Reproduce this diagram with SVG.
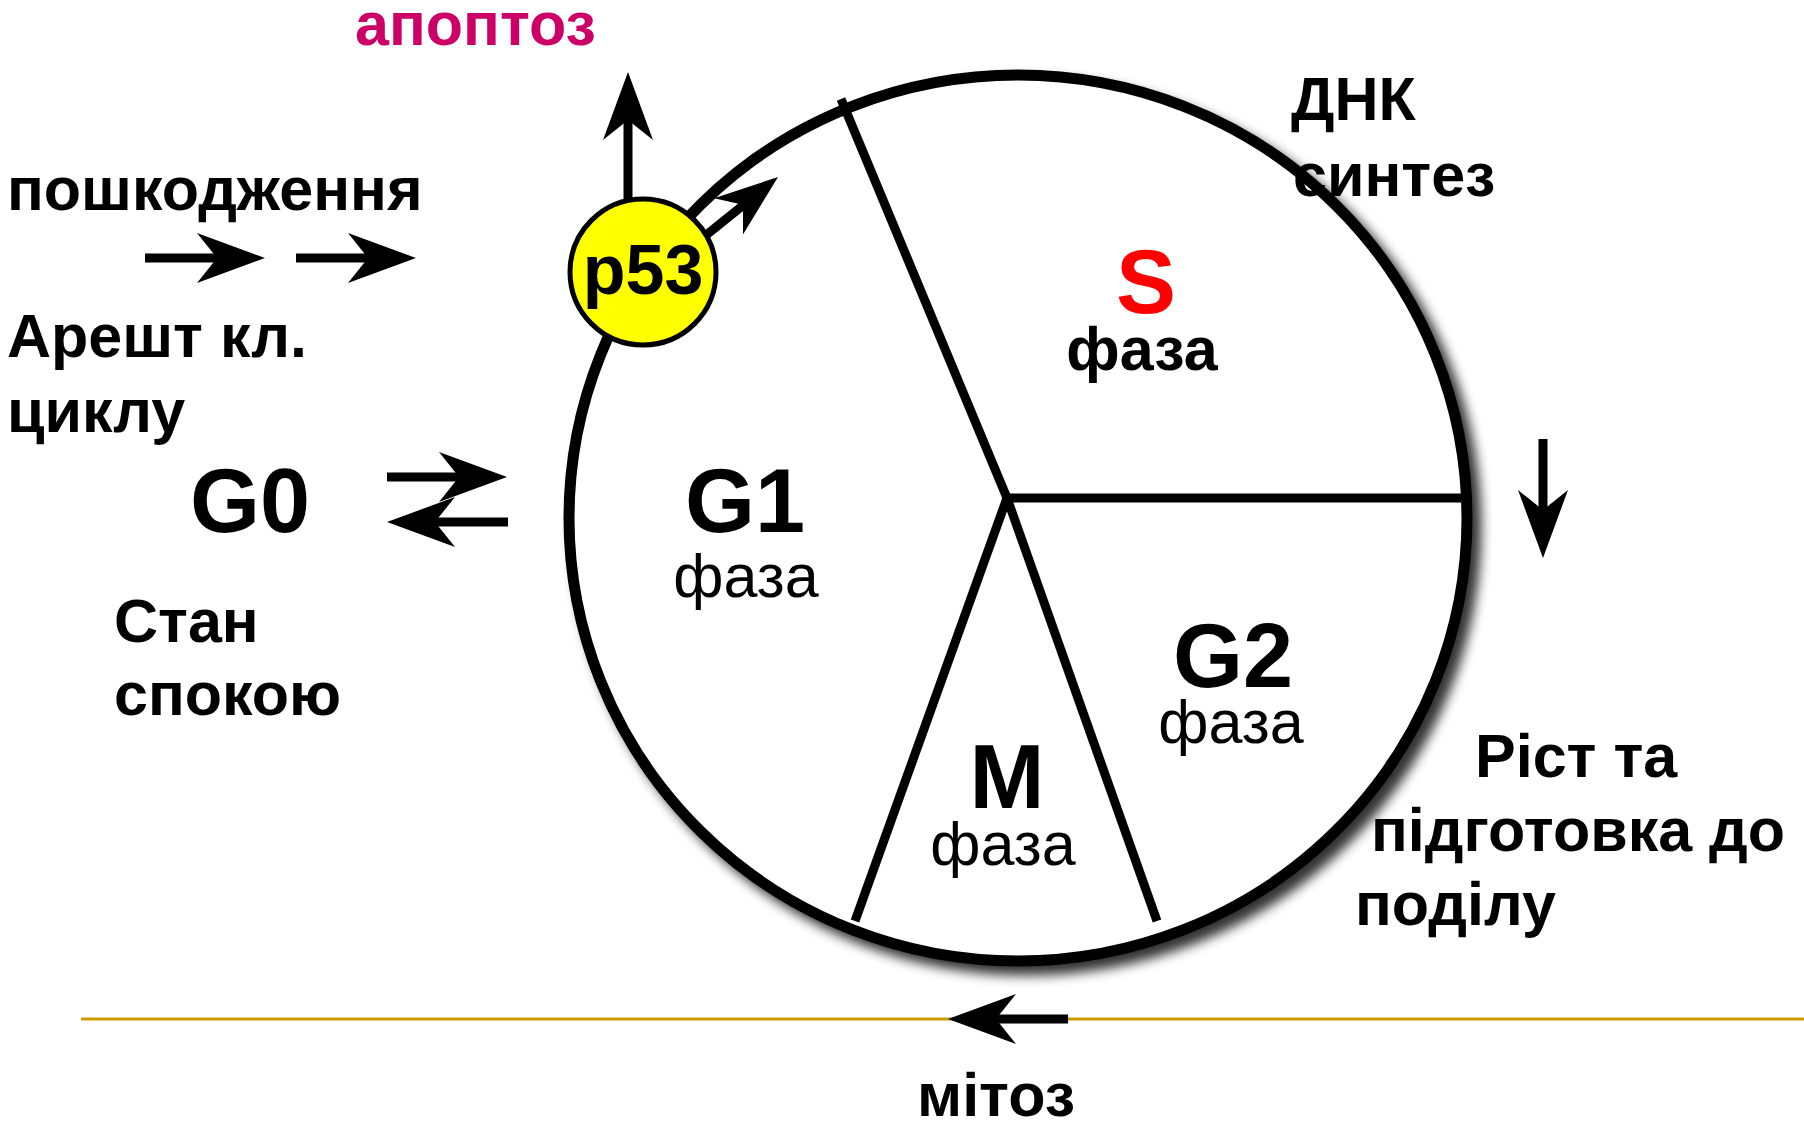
<svg xmlns="http://www.w3.org/2000/svg" xmlns:xlink="http://www.w3.org/1999/xlink" width="1804" height="1121" viewBox="0 0 1804 1121">
<style>
text{font-family:"Liberation Sans",Arial,sans-serif;fill:#000}
.b{font-weight:bold}
.lbl{font-size:61px;font-weight:bold}
.ph{font-size:90px;font-weight:bold;text-anchor:middle}
.fz{font-size:61px;text-anchor:middle}
.shaft{stroke:#000;stroke-width:9;fill:none}
.spoke{stroke:#000;stroke-width:9;fill:none}
</style>
<defs>
<filter id="sh" x="-10%" y="-10%" width="125%" height="125%">
<feGaussianBlur in="SourceAlpha" stdDeviation="6"/>
<feOffset dx="9" dy="9" result="o"/>
<feComponentTransfer><feFuncA type="linear" slope="0.8"/></feComponentTransfer>
<feMerge><feMergeNode/><feMergeNode in="SourceGraphic"/></feMerge>
</filter>
<path id="head" d="M0,0 L-68,-25 L-48,0 L-68,25 Z" fill="#000"/>
</defs>
<rect width="1804" height="1121" fill="#fff"/>

<g id="mitosis-line">
<line x1="81" y1="1019" x2="1804" y2="1019" stroke="#CC9900" stroke-width="3"/>
</g>

<g id="cell-cycle">
<ellipse cx="1018" cy="518" rx="449" ry="443" fill="#fff" stroke="#000" stroke-width="11" filter="url(#sh)"/>
<line class="spoke" x1="1007" y1="498" x2="841" y2="99"/>
<line class="spoke" x1="1007" y1="498" x2="1461" y2="498"/>
<line class="spoke" x1="1007" y1="498" x2="855" y2="921"/>
<line class="spoke" x1="1007" y1="498" x2="1157" y2="921"/>
</g>

<g id="phase-G1"><text class="ph" x="745" y="532">G1</text><text class="fz" x="746" y="597">фаза</text></g>
<g id="phase-S"><text class="ph" x="1146" y="313" font-size="94" style="fill:#FF0000">S</text><text class="fz b" x="1142" y="370">фаза</text></g>
<g id="phase-G2"><text class="ph" x="1233" y="687">G2</text><text class="fz" x="1231" y="743">фаза</text></g>
<g id="phase-M"><text class="ph" x="1007" y="808">M</text><text class="fz" x="1003" y="865">фаза</text></g>

<g id="connectors">
<line class="shaft" x1="145" y1="258" x2="222" y2="258"/>
<use xlink:href="#head" href="#head" transform="translate(265,258)"/>
<line class="shaft" x1="296" y1="258" x2="373" y2="258"/>
<use xlink:href="#head" href="#head" transform="translate(416,258)"/>
<line class="shaft" x1="387" y1="477" x2="462" y2="477"/>
<use xlink:href="#head" href="#head" transform="translate(507,477)"/>
<line class="shaft" x1="508" y1="522" x2="433" y2="522"/>
<use xlink:href="#head" href="#head" transform="translate(387,522) rotate(180)"/>
<line class="shaft" x1="628" y1="200" x2="628" y2="118"/>
<use xlink:href="#head" href="#head" transform="translate(628,72) rotate(-90)"/>
<line class="shaft" x1="700" y1="240" x2="746" y2="203"/>
<use xlink:href="#head" href="#head" transform="translate(778,177) rotate(-38.5) scale(0.93)"/>
<line class="shaft" x1="1543" y1="439" x2="1543" y2="512"/>
<use xlink:href="#head" href="#head" transform="translate(1543,558) rotate(90)"/>
<line class="shaft" x1="1068" y1="1019" x2="993" y2="1019"/>
<use xlink:href="#head" href="#head" transform="translate(948,1019) rotate(180)"/>
</g>

<g id="p53">
<circle cx="643" cy="272" r="73" fill="#FFFF00" stroke="#000" stroke-width="5"/>
<text class="b" x="643" y="294" font-size="70" text-anchor="middle">p53</text>
</g>

<g id="label-apoptosis"><text class="lbl" x="355" y="45" style="fill:#CC0066">апоптоз</text></g>
<g id="label-damage"><text class="lbl" x="7" y="210">пошкодження</text></g>
<g id="label-arrest"><text class="lbl" x="7" y="357">Арешт кл.</text><text class="lbl" x="7" y="432">циклу</text></g>
<g id="label-G0"><text class="ph" x="250" y="532">G0</text></g>
<g id="label-rest"><text class="lbl" x="114" y="642">Стан</text><text class="lbl" x="114" y="715">спокою</text></g>
<g id="label-dna"><text class="lbl" x="1291" y="120">ДНК</text><text class="lbl" x="1293" y="196">синтез</text></g>
<g id="label-growth"><text class="lbl" x="1475" y="777">Ріст та</text><text class="lbl" x="1371" y="851">підготовка до</text><text class="lbl" x="1355" y="925">поділу</text></g>
<g id="label-mitosis"><text class="lbl" x="996" y="1116" text-anchor="middle">мітоз</text></g>
</svg>
